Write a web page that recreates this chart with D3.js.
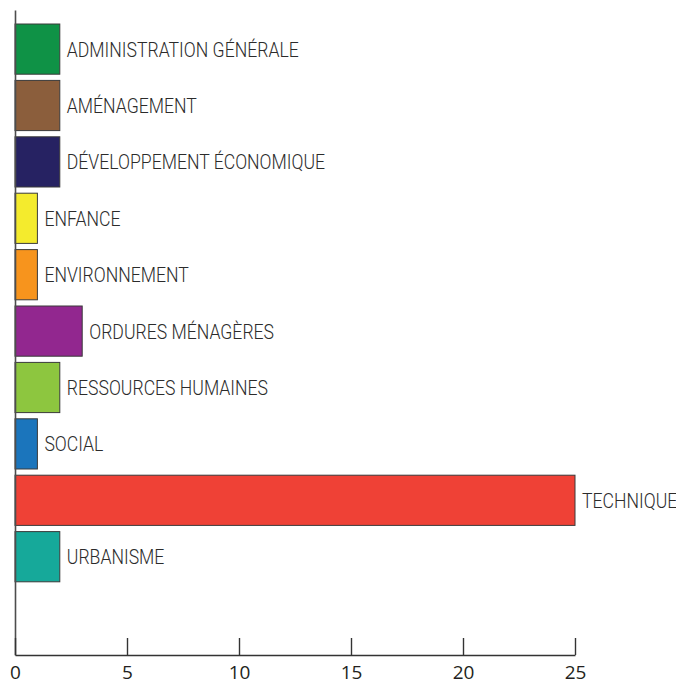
<!DOCTYPE html>
<html>
<head>
<meta charset="utf-8">
<script src="https://cdn.jsdelivr.net/npm/d3@7"></script>
<style>
  body { margin: 0; background: #fff; }
  svg { display: block; }
</style>
</head>
<body>
<div id="chart"></div>
<script>
// Data
var categories = ["ADMINISTRATION GÉNÉRALE", "AMÉNAGEMENT", "DÉVELOPPEMENT ÉCONOMIQUE", "ENFANCE",
                  "ENVIRONNEMENT", "ORDURES MÉNAGÈRES", "RESSOURCES HUMAINES", "SOCIAL",
                  "TECHNIQUE", "URBANISME"];
var values = [2, 2, 2, 1, 1, 3, 2, 1, 25, 2];
var colors = ["#0f9246", "#8b5e3c", "#262262", "#f4eb2d", "#f7941d",
              "#92278f", "#8dc63f", "#1b75bc", "#ef4136", "#16a99a"];
var tickValues = [0, 5, 10, 15, 20, 25];

var data = categories.map(function(c, i) {
    return {name: c, value: values[i], color: colors[i]};
});

var width = 676, height = 684;

var svg = d3.select("#chart").append("svg")
    .attr("width", width)
    .attr("height", height);

// Scales
var x = d3.scaleLinear()
    .domain([0, 25])
    .range([15, 575]);

var y = d3.scaleBand()
    .domain(categories)
    .range([17.8, 588])
    .paddingInner(0.11)
    .paddingOuter(0.11);

// Bars
svg.selectAll(".bar")
    .data(data)
  .enter().append("rect")
    .attr("class", "bar")
    .attr("x", x(0))
    .attr("y", function(d) { return y(d.name); })
    .attr("width", function(d) { return x(d.value) - x(0); })
    .attr("height", y.bandwidth())
    .attr("fill", function(d) { return d.color; })
    .attr("stroke", "#3a3a3a")
    .attr("stroke-width", 1);

// Bar labels (light, condensed look)
svg.selectAll(".label")
    .data(data)
  .enter().append("text")
    .attr("class", "label")
    .attr("transform", function(d) {
        return "translate(" + (x(d.value) + 7) + "," + (y(d.name) + y.bandwidth() / 2 + 7.5) + ") scale(0.84,1)";
    })
    .style("font-family", "Roboto")
    .style("font-weight", 300)
    .style("font-size", "21px")
    .style("fill", "#2b2b2b")
    .text(function(d) { return d.name; });

// Vertical axis line
var yLine = d3.scaleLinear().domain([0, 1]).range([655, 10]);
svg.append("g")
    .attr("transform", "translate(" + x(0) + ",0)")
    .call(d3.axisLeft(yLine).tickValues([]).tickSizeOuter(0))
    .select(".domain")
    .attr("stroke", "#4d4d4d")
    .attr("stroke-width", 1.6);

// Bottom axis, ticks pointing up
var xAxis = svg.append("g")
    .attr("transform", "translate(0,655)")
    .call(d3.axisBottom(x).tickValues(tickValues).tickSizeInner(-17).tickSizeOuter(0));

xAxis.select(".domain")
    .attr("stroke", "#333")
    .attr("stroke-width", 1.6);
xAxis.selectAll(".tick line")
    .attr("stroke", "#333")
    .attr("stroke-width", 1.4);
xAxis.selectAll(".tick text")
    .attr("y", 24)
    .attr("dy", 0)
    .style("font-family", "Open Sans")
    .style("font-size", "19px")
    .style("fill", "#231f20");
</script>
</body>
</html>
